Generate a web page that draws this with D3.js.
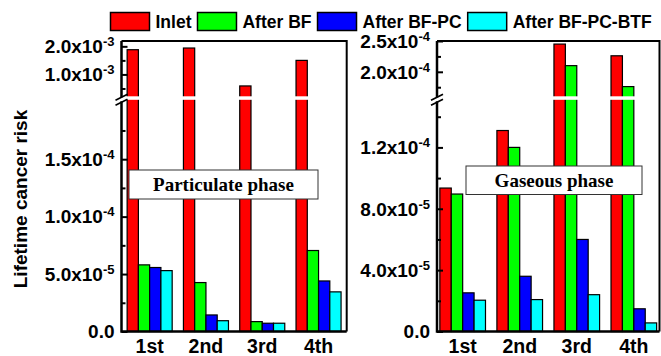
<!DOCTYPE html>
<html>
<head>
<meta charset="utf-8">
<script src="https://cdn.jsdelivr.net/npm/d3@7"></script>
<style>
  body { margin: 0; background: #fff; }
  text { font-family: "Liberation Sans", Arial, sans-serif; font-weight: bold; }
</style>
</head>
<body>
<div id="chart"></div>
<script>
// data
const categories = ["1st", "2nd", "3rd", "4th"];
const seriesNames = ["Inlet", "After BF", "After BF-PC", "After BF-PC-BTF"];
const seriesColors = ["#ff0000", "#00ff00", "#0000ff", "#00ffff"];

// particulate phase
const partInlet = [1.88e-3, 1.94e-3, 0.59e-3, 1.50e-3];
const partBF = [5.8e-5, 4.26e-5, 0.86e-5, 7.05e-5];
const partPC = [5.57e-5, 1.44e-5, 0.72e-5, 4.4e-5];
const partBTF = [5.3e-5, 0.94e-5, 0.72e-5, 3.45e-5];

// gaseous phase
const gasInlet = [9.35e-5, 1.31e-4, 2.45e-4, 2.26e-4];
const gasBF = [8.96e-5, 1.20e-4, 2.10e-4, 1.76e-4];
const gasPC = [2.52e-5, 3.6e-5, 6.0e-5, 1.48e-5];
const gasBTF = [2.04e-5, 2.08e-5, 2.4e-5, 0.56e-5];

// tick values
const partLowerTicks = [0, 5e-5, 1e-4, 1.5e-4];
const partLowerMinor = [2.5e-5, 7.5e-5, 1.25e-4, 1.75e-4];
const partUpperTicks = [1e-3, 2e-3];
const partUpperMinor = [5e-4, 1.5e-3];
const gasLowerTicks = [0, 4e-5, 8e-5, 1.2e-4];
const gasLowerMinor = [2e-5, 6e-5, 1e-4, 1.4e-4];
const gasUpperTicks = [2e-4, 2.5e-4];
const gasUpperMinor = [1.75e-4, 2.25e-4];

const width = 661;
const height = 356;
const plotTop = 41;
const plotBottom = 331.5;
const breakY = 98.3;

const svg = d3.select("#chart").append("svg")
  .attr("width", width)
  .attr("height", height);

// "2.0x10-3" style labels
function addSciLabel(sel, v) {
  if (v === 0) {
    sel.append("tspan").text("0.0");
    return;
  }
  const e = Math.floor(Math.log10(v) + 1e-9);
  const m = (v / Math.pow(10, e)).toFixed(1);
  sel.append("tspan").text(m + "x10");
  sel.append("tspan").attr("font-size", 13).attr("dy", -7).text(String(e));
}

function drawPanel(p) {
  const g = svg.append("g");

  const lower = d3.scaleLinear().domain(p.lowerDomain).range([plotBottom, breakY]);
  const upper = d3.scaleLinear().domain(p.upperDomain).range([breakY, plotTop]);
  const yPos = v => v <= p.lowerDomain[1] ? lower(v) : upper(v);

  const x0 = d3.scaleBand().domain(categories).range([p.x0, p.x1])
    .paddingInner(0.2).paddingOuter(p.outer);
  const x1 = d3.scaleBand().domain(seriesNames).range([0, x0.bandwidth()]);

  const rows = categories.map((c, i) => ({
    cat: c,
    vals: p.values.map((arr, k) => ({ name: seriesNames[k], color: seriesColors[k], v: arr[i] }))
  }));

  const groups = g.selectAll(".grp")
    .data(rows)
    .enter().append("g")
    .attr("transform", d => `translate(${x0(d.cat)},0)`);

  groups.selectAll("rect")
    .data(d => d.vals)
    .enter().append("rect")
    .attr("x", d => x1(d.name))
    .attr("width", x1.bandwidth())
    .attr("y", d => yPos(d.v))
    .attr("height", d => plotBottom - yPos(d.v))
    .attr("fill", d => d.color)
    .attr("stroke", "#000")
    .attr("stroke-width", 1.2);

  // white gap across the bars at the break
  g.append("rect")
    .attr("x", p.x0 + 2)
    .attr("y", breakY - 2)
    .attr("width", p.x1 - p.x0 - 4)
    .attr("height", 3.5)
    .attr("fill", "#fff");

  // frame
  g.append("path")
    .attr("d", `M${p.x0},${plotTop}H${p.x1}V${plotBottom}`)
    .attr("fill", "none")
    .attr("stroke", "#000")
    .attr("stroke-width", 2);
  g.append("path")
    .attr("d", `M${p.x0},${plotTop}V${plotBottom}H${p.x1}`)
    .attr("fill", "none")
    .attr("stroke", "#000")
    .attr("stroke-width", 2.5);

  // ticks, inward
  const tickGroup = (scale, majors, minors) => {
    g.append("g")
      .attr("transform", `translate(${p.x0},0)`)
      .call(d3.axisLeft(scale).tickValues(majors).tickSize(-6).tickFormat(""))
      .call(a => a.select(".domain").remove())
      .selectAll("line").attr("stroke-width", 2);
    g.append("g")
      .attr("transform", `translate(${p.x0},0)`)
      .call(d3.axisLeft(scale).tickValues(minors).tickSize(-4).tickFormat(""))
      .call(a => a.select(".domain").remove())
      .selectAll("line").attr("stroke-width", 2);

    g.selectAll(null)
      .data(majors)
      .enter().append("text")
      .attr("x", p.x0 - 7)
      .attr("y", d => scale(d))
      .attr("dy", "0.36em")
      .attr("text-anchor", "end")
      .attr("font-size", 19)
      .each(function (d) { addSciLabel(d3.select(this), d); });
  };
  tickGroup(lower, p.lowerTicks, p.lowerMinor);
  tickGroup(upper, p.upperTicks, p.upperMinor);

  // break marks on the y axis
  g.append("rect")
    .attr("x", p.x0 - 3)
    .attr("y", breakY - 1)
    .attr("width", 6)
    .attr("height", 4)
    .attr("fill", "#fff");
  [-1, 4].forEach(off => {
    g.append("line")
      .attr("x1", p.x0 - 6).attr("y1", breakY + off + 3)
      .attr("x2", p.x0 + 6).attr("y2", breakY + off - 3)
      .attr("stroke", "#000")
      .attr("stroke-width", 1.8);
  });

  // x labels
  g.selectAll(null)
    .data(categories)
    .enter().append("text")
    .attr("x", d => x0(d) + x0.bandwidth() / 2)
    .attr("y", 352.5)
    .attr("text-anchor", "middle")
    .attr("font-size", 19.5)
    .text(d => d);

  // phase label box
  g.append("rect")
    .attr("x", p.box[0]).attr("y", p.box[1])
    .attr("width", p.box[2]).attr("height", p.box[3])
    .attr("fill", "#fff")
    .attr("stroke", "#333")
    .attr("stroke-width", 1);
  g.append("text")
    .attr("x", p.box[0] + p.box[2] / 2)
    .attr("y", p.box[1] + p.box[3] / 2)
    .attr("dy", "0.35em")
    .attr("text-anchor", "middle")
    .attr("font-size", 19)
    .style("font-family", "'Liberation Serif', 'Times New Roman', serif")
    .text(p.label);
}

drawPanel({
  x0: 121.5, x1: 346.7, outer: 0.1,
  lowerDomain: [0, 2.03e-4], upperDomain: [0.15e-3, 2.19e-3],
  values: [partInlet, partBF, partPC, partBTF],
  lowerTicks: partLowerTicks, lowerMinor: partLowerMinor,
  upperTicks: partUpperTicks, upperMinor: partUpperMinor,
  box: [129, 170, 189, 29], label: "Particulate phase"
});

drawPanel({
  x0: 437, x1: 659.5, outer: 0.05,
  lowerDomain: [0, 1.52e-4], upperDomain: [1.57e-4, 2.5e-4],
  values: [gasInlet, gasBF, gasPC, gasBTF],
  lowerTicks: gasLowerTicks, lowerMinor: gasLowerMinor,
  upperTicks: gasUpperTicks, upperMinor: gasUpperMinor,
  box: [466, 166, 176, 28.5], label: "Gaseous phase"
});

// y axis title
svg.append("text")
  .attr("transform", "translate(27,199) rotate(-90)")
  .attr("text-anchor", "middle")
  .attr("font-size", 19)
  .text("Lifetime cancer risk");

// legend
let lx = 110.5;
seriesNames.forEach((name, i) => {
  svg.append("rect")
    .attr("x", lx).attr("y", 12.5)
    .attr("width", 39).attr("height", 18)
    .attr("fill", seriesColors[i])
    .attr("stroke", "#000")
    .attr("stroke-width", 1.5);
  const t = svg.append("text")
    .attr("x", lx + 45)
    .attr("y", 28)
    .attr("font-size", 17.5)
    .text(name);
  lx += 45 + t.node().getComputedTextLength() + 6;
});
</script>
</body>
</html>
